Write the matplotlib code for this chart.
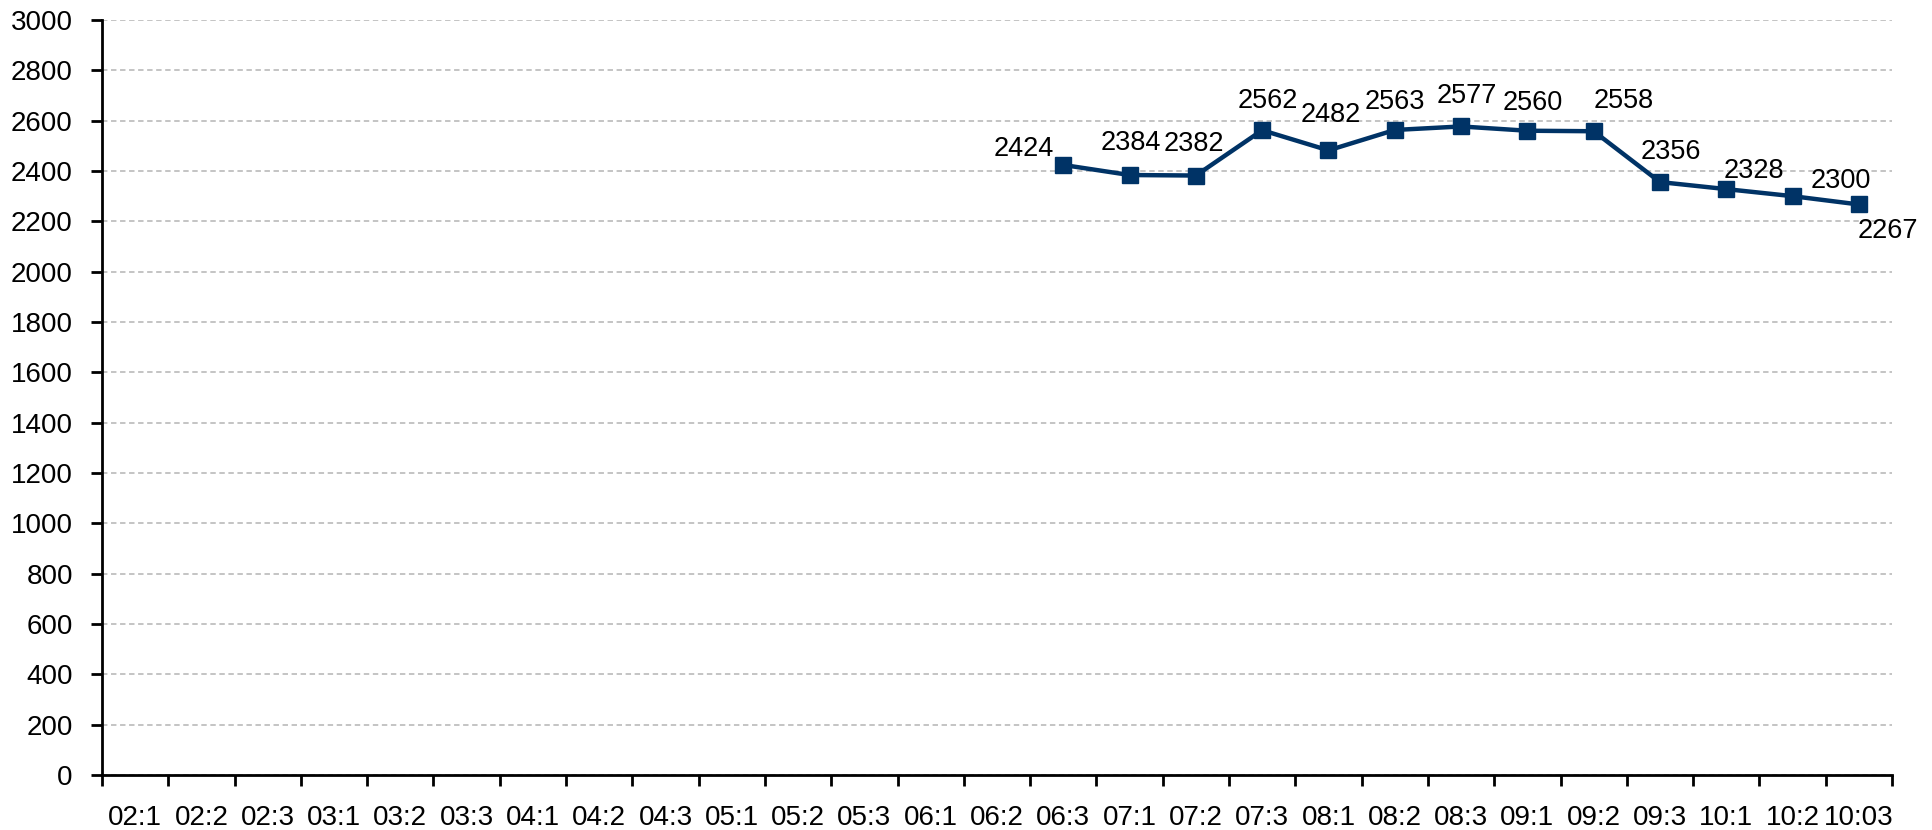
import numpy as np
import matplotlib.pyplot as plt

plt.rcParams['font.family'] = ['Liberation Sans', 'DejaVu Sans']

# categories along the x axis
labels = ['02:1', '02:2', '02:3', '03:1', '03:2', '03:3', '04:1', '04:2', '04:3',
          '05:1', '05:2', '05:3', '06:1', '06:2', '06:3', '07:1', '07:2', '07:3',
          '08:1', '08:2', '08:3', '09:1', '09:2', '09:3', '10:1', '10:2', '10:03']
# series values (empty until 06:3)
values = [None] * 14 + [2424, 2384, 2382, 2562, 2482, 2563, 2577, 2560, 2558,
                        2356, 2328, 2300, 2267]
# label offsets in pixels (dx, dy), one for each non-empty point
label_offsets = [(-40, 16), (1, 32), (-2, 32), (6, 29), (2, 35), (0, 28), (6, 30),
                 (5, 28), (30, 30), (11, 30), (28, 18), (48, 15), (29, -27)]

line_color = '#003366'

x = np.arange(len(labels))
y = np.array([np.nan if v is None else v for v in values], dtype=float)

fig = plt.figure(figsize=(19.32, 8.30), dpi=100)
ax = fig.add_axes([0.0528, 0.0663, 0.9793 - 0.0528, 0.9759 - 0.0663])

ax.plot(x, y, color=line_color, lw=3.2, marker='s', ms=12,
        markerfacecolor=line_color, markeredgecolor=line_color, zorder=3)

pts = [(xi, v) for xi, v in zip(x, values) if v is not None]
for (xi, v), (dx, dy) in zip(pts, label_offsets):
    ax.annotate(str(v), (xi, v), xytext=(dx, dy), textcoords='offset pixels',
                ha='center', va='center', fontsize=19.5, color='black')

ax.set_xlim(-0.5, len(labels) - 0.5)
ax.set_ylim(0, 3000)
ax.set_yticks(np.arange(0, 3001, 200))
ax.yaxis.grid(True, color='#bfbfbf', linestyle=(0, (3, 2)), linewidth=1.3)
ax.set_axisbelow(True)

# boundary ticks without labels, labels at category centres
ax.set_xticks(np.arange(-0.5, len(labels), 1.0))
ax.set_xticklabels([])
ax.set_xticks(x, minor=True)
ax.set_xticklabels(labels, minor=True)
ax.tick_params(axis='x', which='major', length=8, width=2, direction='out')
ax.tick_params(axis='x', which='minor', length=0, pad=21.5, labelsize=20)
ax.tick_params(axis='y', length=8, width=2, direction='out', pad=13, labelsize=20)

for s in ['top', 'right']:
    ax.spines[s].set_visible(False)
for s in ['left', 'bottom']:
    ax.spines[s].set_linewidth(2)
    ax.spines[s].set_color('black')

fig.savefig('out.png', dpi=100)
